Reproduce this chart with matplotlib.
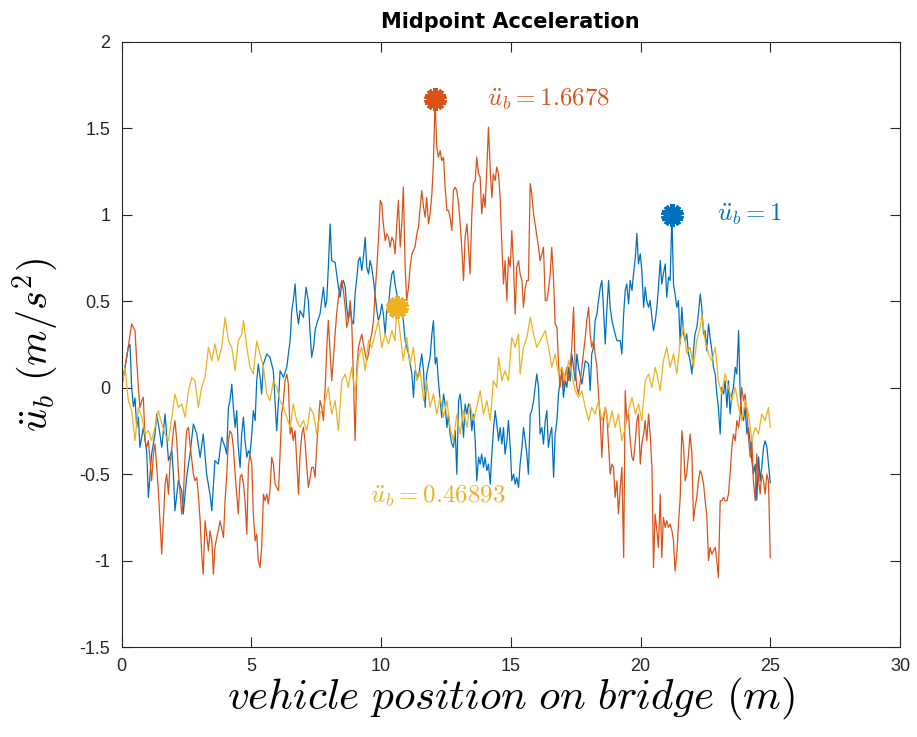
import matplotlib
matplotlib.use("Agg")
import matplotlib.pyplot as plt
from matplotlib.ticker import FuncFormatter

plt.rcParams["mathtext.fontset"] = "cm"
plt.rcParams["axes.unicode_minus"] = False
plt.rcParams["font.family"] = ["Liberation Sans", "DejaVu Sans"]

# ---- data (x in m, y in m/s^2) ----
blue_x = [0, 0.26, 0.33, 0.39, 0.46, 0.52, 0.585, 0.65, 0.71, 0.84, 0.97, 1.035, 1.16, 1.29, 1.36,
          1.48, 1.55, 1.68, 1.81, 1.94, 2.0, 2.06, 2.19, 2.32, 2.38, 2.51, 2.64, 2.77, 2.90, 3.03,
          3.15, 3.28, 3.41, 3.48, 3.60, 3.73, 3.86, 3.99,
          4.05, 4.12, 4.18, 4.25, 4.31, 4.38, 4.44, 4.50, 4.57, 4.63, 4.70, 4.76, 4.83, 4.89, 4.95,
          5.02, 5.08, 5.15, 5.21, 5.27, 5.34, 5.40, 5.47, 5.60, 5.72, 5.85, 5.98, 6.05, 6.11, 6.24,
          6.37, 6.43, 6.50, 6.56, 6.62, 6.69, 6.75, 6.82, 6.88, 7.01, 7.11, 7.20, 7.27, 7.33, 7.40,
          7.46, 7.52, 7.65, 7.78, 7.85, 7.91, 7.97, 8.04,
          8.10, 8.23, 8.36, 8.42, 8.49, 8.55, 8.62, 8.68, 8.74, 8.81, 8.87, 8.94, 9.0, 9.07, 9.13,
          9.19, 9.26, 9.32, 9.39, 9.45, 9.52, 9.58, 9.64, 9.71, 9.77, 9.84, 9.90, 9.97, 10.03, 10.09,
          10.16, 10.22, 10.29, 10.35, 10.42, 10.48, 10.54, 10.61, 10.67, 10.74, 10.86, 10.93, 11.06,
          11.19, 11.25, 11.31, 11.44, 11.57, 11.64, 11.70, 11.76, 11.89, 11.96, 12.02,
          12.09, 12.15, 12.21, 12.28, 12.34, 12.41, 12.47, 12.54, 12.60, 12.66, 12.73, 12.79, 12.86,
          12.92, 12.99, 13.05, 13.11, 13.18, 13.24, 13.31, 13.37, 13.43, 13.50, 13.56, 13.63, 13.69,
          13.76, 13.82, 13.88, 13.95, 14.01, 14.08, 14.14, 14.21, 14.27, 14.33, 14.40, 14.46, 14.53,
          14.59, 14.66, 14.72, 14.78, 14.85, 14.91, 14.98, 15.04, 15.11, 15.17, 15.23, 15.30, 15.36,
          15.43, 15.49, 15.56, 15.62, 15.68, 15.75, 15.81, 15.88, 15.94, 16.0,
          16.07, 16.13, 16.20, 16.26, 16.33, 16.39, 16.45, 16.52, 16.58, 16.65, 16.71, 16.78, 16.84,
          16.90, 16.97, 17.03, 17.10, 17.16, 17.23, 17.29, 17.35, 17.42, 17.48, 17.55, 17.61, 17.74,
          17.87, 18.0, 18.06, 18.12, 18.19, 18.25, 18.32, 18.38, 18.45, 18.51, 18.57, 18.64, 18.70,
          18.77, 18.83, 18.90, 19.02, 19.09, 19.22, 19.28, 19.35, 19.41, 19.47, 19.54, 19.60, 19.67,
          19.73, 19.80, 19.86, 19.92, 19.99, 20.05, 20.12, 20.18, 20.24, 20.31, 20.37, 20.44, 20.50,
          20.57, 20.63, 20.69, 20.76, 20.82, 20.88, 20.95, 21.01, 21.08, 21.14, 21.21, 21.27, 21.33,
          21.40, 21.46, 21.53, 21.59, 21.66, 21.72, 21.78, 21.85, 21.91, 21.98, 22.04, 22.10, 22.17,
          22.23, 22.30, 22.36, 22.43, 22.49, 22.55, 22.62, 22.68, 22.75, 22.81, 22.88, 22.94, 23.0,
          23.07, 23.13, 23.20, 23.26, 23.33, 23.39, 23.45, 23.52, 23.58, 23.65, 23.71, 23.78, 23.84,
          23.90, 23.97, 24.03, 24.10, 24.16, 24.23, 24.29, 24.35, 24.42, 24.48, 24.55, 24.61, 24.67,
          24.74, 24.80, 24.87, 24.93, 25.0]
blue_y = [0, 0.23, 0.25, 0.0, -0.11, -0.06, -0.23, -0.17, -0.345, -0.23, -0.365, -0.635, -0.384, -0.268, -0.152,
          -0.268, -0.345, -0.152, -0.422, -0.365, -0.5, -0.712, -0.538, -0.596, -0.731, -0.519, -0.384, -0.21, -0.268, -0.403,
          -0.268, -0.5, -0.616, -0.712, -0.422, -0.442, -0.287, -0.345,
          -0.384, -0.114, -0.075, 0.02, -0.114, -0.229, -0.133, -0.345, -0.461, -0.268, -0.171, -0.306, -0.403, -0.365, -0.384,
          -0.268, -0.133, -0.19, 0.04, 0.137, 0.06, -0.037, 0.137, 0.195, 0.176, 0.098, -0.249, -0.075, 0.098, 0.06,
          0.118, 0.195, 0.272, 0.446, 0.504, 0.6, 0.446, 0.369, 0.446, 0.407, 0.581, 0.504, 0.31, 0.176, 0.233,
          0.33, 0.369, 0.427, 0.581, 0.465, 0.504, 0.697, 0.947,
          0.735, 0.725, 0.581, 0.523, 0.6, 0.62, 0.581, 0.465, 0.388, 0.465, 0.388, 0.369, 0.542, 0.639, 0.735,
          0.755, 0.677, 0.755, 0.87, 0.697, 0.658, 0.735, 0.697, 0.62, 0.542, 0.446, 0.388, 0.426, 0.484, 0.426,
          0.31, 0.446, 0.465, 0.581, 0.658, 0.677, 0.6, 0.542, 0.465, 0.504, 0.388, 0.272, 0.195,
          0.079, -0.056, 0.098, 0.06, 0.195, 0.098, -0.114, 0.079, 0.175, 0.31, 0.388,
          0.137, 0.175, 0.04, -0.075, -0.172, -0.037, -0.094, -0.23, -0.153, -0.268, -0.326, -0.345, -0.249,
          -0.5, -0.075, -0.037, -0.133, -0.287, -0.094, -0.153, -0.094, -0.114, -0.249, -0.153, -0.307, -0.538,
          -0.403, -0.442, -0.384, -0.461, -0.403, -0.48, -0.442, -0.558, -0.384, -0.249, -0.133, -0.21, -0.307,
          -0.23, -0.326, -0.23, -0.384, -0.307, -0.19, -0.345, -0.538, -0.5, -0.558, -0.519, -0.577, -0.442,
          -0.345, -0.23, -0.307, -0.384, -0.5, -0.153, -0.133, -0.075, 0.002, 0.079,
          0.002, -0.268, -0.23, -0.326, -0.19, -0.133, -0.345, -0.268, -0.23, -0.518, -0.268, -0.19, -0.037,
          0.04, 0.079, -0.056, 0.04, 0.002, 0.118, 0.04, 0.195, 0.118, 0.04, 0.195, 0.118, 0.021,
          0.156, 0.137, -0.017, 0.195, 0.234, 0.388, 0.426, 0.504, 0.581, 0.62, 0.465, 0.253, 0.446,
          0.62, 0.465, 0.388, 0.311, 0.272, 0.272, 0.195, 0.426, 0.562, 0.6, 0.484, 0.62, 0.562,
          0.658, 0.755, 0.893, 0.716, 0.774, 0.678, 0.465, 0.581, 0.504, 0.465, 0.504, 0.407, 0.33,
          0.388, 0.465, 0.581, 0.735, 0.6, 0.658, 0.716, 0.523, 0.64, 0.62, 1.0, 0.6, 0.542,
          0.465, 0.504, 0.253, 0.465, 0.311, 0.272, 0.311, 0.195, 0.156, 0.079, 0.214, 0.311, 0.349,
          0.426, 0.542, 0.465, 0.311, 0.33, 0.214, 0.369, 0.291, 0.214, 0.118, 0.079, -0.037, -0.114,
          -0.268, 0.002, -0.037, 0.04, -0.114, 0.04, -0.152, -0.037, 0.002, 0.118, 0.079, 0.33, -0.037,
          -0.152, -0.19, -0.114, -0.268, -0.23, -0.326, -0.422, -0.5, -0.442, -0.65, -0.40, -0.54, -0.46,
          -0.345, -0.307, -0.345, -0.442, -0.55]

red_x = [0, 0.2, 0.39, 0.52, 0.585, 0.65, 0.71, 0.78, 0.84, 0.91, 0.97, 1.035, 1.1, 1.16, 1.23, 1.29,
         1.36, 1.42, 1.48, 1.55, 1.61, 1.68, 1.74, 1.81, 1.87, 1.94, 2.0, 2.06, 2.13, 2.19, 2.26, 2.32,
         2.38, 2.45, 2.51, 2.58, 2.64, 2.71, 2.77, 2.83, 2.90, 2.96, 3.03, 3.09, 3.15, 3.22, 3.28, 3.35,
         3.41, 3.48, 3.54, 3.60, 3.67, 3.73, 3.80,
         3.93, 3.99, 4.05, 4.12, 4.18, 4.25, 4.31, 4.38, 4.44, 4.50, 4.57, 4.63, 4.70, 4.76, 4.83, 4.89,
         4.95, 5.02, 5.08, 5.15, 5.21, 5.27, 5.34, 5.40, 5.47, 5.53, 5.60, 5.66, 5.72, 5.79, 5.85, 5.92,
         5.98, 6.05, 6.11, 6.17, 6.24, 6.30, 6.37, 6.43, 6.50, 6.56, 6.62, 6.69, 6.75, 6.82, 6.88, 6.95,
         7.01, 7.07, 7.14, 7.20, 7.27, 7.33, 7.40, 7.46, 7.52, 7.59, 7.65, 7.72, 7.78, 7.85, 7.91,
         7.97, 8.04, 8.10, 8.17, 8.23, 8.29, 8.36, 8.42, 8.49, 8.55, 8.62, 8.68, 8.74, 8.81, 8.87, 8.94,
         9.0, 9.07, 9.13, 9.19, 9.26, 9.32, 9.39, 9.45, 9.52, 9.58, 9.64, 9.71, 9.77, 9.84, 9.90, 9.97,
         10.03, 10.09, 10.16, 10.22, 10.29, 10.35, 10.42, 10.48, 10.54, 10.61, 10.67, 10.74, 10.80,
         10.86, 10.93, 10.99, 11.06, 11.12, 11.19, 11.25, 11.31, 11.38, 11.44, 11.51, 11.57, 11.64,
         11.70, 11.76, 11.83, 11.89, 11.96, 12.02, 12.08,
         12.15, 12.21, 12.28, 12.34, 12.41, 12.47, 12.54, 12.60, 12.66, 12.73, 12.79, 12.86, 12.92,
         12.99, 13.05, 13.11, 13.18, 13.24, 13.31, 13.37, 13.43, 13.50, 13.56, 13.63, 13.69, 13.76,
         13.82, 13.88, 13.95, 14.01, 14.08, 14.14, 14.21, 14.27, 14.33, 14.40, 14.46, 14.53, 14.59,
         14.66, 14.72, 14.78, 14.85, 14.91, 14.98, 15.04, 15.11, 15.17, 15.23, 15.30, 15.36, 15.43,
         15.49, 15.56, 15.62, 15.68, 15.75, 15.81, 15.88,
         16.07, 16.13, 16.20, 16.26, 16.33, 16.39, 16.45, 16.52, 16.58, 16.65, 16.71, 16.78, 16.84,
         16.90, 16.97, 17.03, 17.10, 17.16, 17.23, 17.29, 17.35, 17.42, 17.48, 17.55, 17.61, 17.68,
         17.74, 17.80, 17.87, 17.93, 18.0, 18.06, 18.12, 18.19, 18.25, 18.32, 18.38, 18.45, 18.51,
         18.57, 18.64, 18.70, 18.77, 18.83, 18.90, 18.96, 19.02, 19.09, 19.15, 19.22, 19.28, 19.35,
         19.41, 19.47, 19.54, 19.60, 19.67, 19.73, 19.80, 19.86, 19.92, 19.99, 20.05, 20.12, 20.18,
         20.24, 20.31, 20.37, 20.44, 20.50,
         20.56, 20.63, 20.69, 20.76, 20.82, 20.88, 20.95, 21.01, 21.08, 21.14, 21.21, 21.27, 21.33,
         21.40, 21.46, 21.53, 21.59, 21.66, 21.72, 21.78, 21.85, 21.91, 21.98, 22.04, 22.10, 22.17,
         22.23, 22.30, 22.36, 22.43, 22.49, 22.55, 22.62, 22.68, 22.75, 22.81, 22.88, 22.94, 23.0,
         23.07, 23.13, 23.20, 23.26, 23.33, 23.39, 23.45, 23.52, 23.58, 23.65, 23.71, 23.78, 23.84,
         23.90, 23.97, 24.03, 24.10, 24.16, 24.23, 24.29, 24.35, 24.42, 24.48, 24.55, 24.61, 24.67,
         24.74, 24.80, 24.87, 24.93, 25.0]
red_y = [0, 0.176, 0.369, 0.33, 0.156, 0.002, -0.114, -0.075, -0.056, -0.306, -0.345, -0.306, -0.422, -0.538, -0.384, -0.326,
         -0.461, -0.596, -0.77, -0.963, -0.77, -0.557, -0.5, -0.616, -0.442, -0.345, -0.249, -0.191, -0.306, -0.48, -0.616, -0.731,
         -0.654, -0.384, -0.249, -0.229, -0.326, -0.422, -0.5, -0.538, -0.519, -0.616, -0.77, -0.963, -1.079, -0.77, -0.847, -0.944,
         -0.828, -0.886, -1.079, -0.924, -0.866, -0.828, -0.77,
         -0.866, -0.654, -0.519, -0.306, -0.249, -0.268, -0.345, -0.5, -0.616, -0.731, -0.519, -0.5, -0.557, -0.654, -0.847, -0.461,
         -0.384, -0.442, -0.731, -0.886, -0.847, -1.0, -1.04, -0.924, -0.616, -0.654, -0.616, -0.673, -0.596, -0.403, -0.442, -0.557,
         -0.577, -0.596, -0.384, -0.152, -0.075, 0.04, 0.079, 0.021, -0.268, -0.229, -0.306, -0.249, -0.422, -0.616, -0.384, -0.268,
         -0.229, -0.306, -0.461, -0.577, -0.519, -0.461, -0.461, -0.519, -0.345, -0.19, -0.075, -0.114, -0.19, 0.002, 0.233,
         0.388, 0.195, 0.04, 0.175, 0.31, 0.426, 0.523, 0.581, 0.62, 0.562, 0.465, 0.349, 0.388, 0.504, 0.388, 0.04,
         -0.306, 0.118, 0.233, 0.272, 0.31, 0.253, 0.195, 0.156, 0.195, 0.272, 0.31, 0.388, 0.542, 0.697, 0.851, 1.083,
         1.063, 0.947, 0.851, 0.89, 0.87, 0.813, 0.87, 0.851, 0.774, 0.947, 1.083, 0.813, 0.947,
         1.16, 0.697, 0.504, 0.581, 0.697, 0.774, 0.793, 0.813, 0.89, 0.928, 1.044, 1.14, 1.044,
         0.986, 1.1, 0.947, 1.005, 1.12, 1.3, 1.6678,
         1.391, 1.333, 1.372, 1.314, 1.333, 1.16, 1.025, 1.025, 0.986, 0.909, 1.14, 1.16, 1.14,
         1.063, 0.947, 0.813, 0.62, 0.87, 0.947, 0.813, 0.658, 1.005, 1.18, 1.198, 1.333, 1.237,
         1.218, 1.005, 1.12, 1.044, 1.276, 1.507, 1.256, 1.1, 1.237, 1.198, 1.276, 1.237, 1.1,
         0.813, 0.6, 0.735, 0.504, 0.755, 0.697, 0.909, 0.697, 0.426, 0.697, 0.735, 0.658, 0.62,
         0.465, 0.581, 0.62, 0.62, 1.18, 1.12, 1.005,
         0.812, 0.735, 0.774, 0.812, 0.504, 0.504, 0.562, 0.658, 0.812, 0.62, 0.368, 0.349, 0.137,
         0.002, 0.118, 0.002, 0.079, 0.118, 0.04, 0.118, 0.234, 0.465, 0.118, 0.002, -0.037, 0.04,
         0.118, 0.195, 0.291, 0.388, 0.465, 0.311, 0.234, 0.272, 0.195, 0.118, -0.037, -0.19, -0.403,
         -0.19, -0.114, -0.152, -0.345, -0.5, -0.442, -0.461, -0.635, -0.539, -0.731, -0.577, -0.461, -0.982,
         -0.017, -0.19, -0.152, -0.307, -0.403, -0.422, -0.307, -0.19, -0.152, -0.442, -0.326, -0.268, -0.19,
         -0.307, -0.152, -0.268, -0.461, -1.04,
         -0.731, -0.827, -0.924, -0.615, -0.982, -0.75, -0.808, -0.77, -0.808, -0.789, -0.827, -0.885, -1.06,
         -0.963, -0.789, -0.635, -0.249, -0.345, -0.539, -0.5, -0.384, -0.268, -0.384, -0.77, -0.693, -0.635,
         -0.539, -0.48, -0.5, -0.558, -0.654, -0.731, -1.0, -0.924, -0.963, -0.943, -0.924, -1.0, -1.098,
         -0.654, -0.654, -0.635, -0.654, -0.654, -0.615, -0.5, -0.345, -0.268, -0.307, -0.19, -0.23, -0.152,
         0.002, -0.075, -0.037, -0.152, -0.287, -0.403, -0.307, -0.539, -0.654, -0.384, -0.539, -0.615, -0.5,
         -0.539, -0.615, -0.5, -0.539, -0.982]

yellow_x = [0, 0.135, 0.264, 0.393, 0.52, 0.65, 0.78, 0.906, 1.035, 1.16, 1.29, 1.42, 1.55, 1.68, 1.81,
            1.94, 2.06, 2.19, 2.32, 2.45, 2.58, 2.71, 2.83, 2.96, 3.09, 3.22, 3.35, 3.48, 3.6, 3.73,
            3.86, 3.99,
            4.12, 4.25, 4.38, 4.50, 4.63, 4.70, 4.83, 4.95, 5.08, 5.21, 5.34, 5.47, 5.60, 5.72, 5.85,
            5.98, 6.11, 6.24, 6.37, 6.50, 6.62, 6.75, 6.88, 7.01, 7.14, 7.27, 7.40, 7.52, 7.65, 7.78,
            7.85, 7.97, 8.10, 8.23, 8.36, 8.49, 8.62, 8.74, 8.87, 9.0, 9.13, 9.26, 9.39, 9.52, 9.64,
            9.77, 9.90, 10.03, 10.16, 10.29, 10.42, 10.54, 10.61, 10.74, 10.86, 10.99, 11.12, 11.25,
            11.38, 11.51, 11.64, 11.76, 11.89, 12.02,
            12.15, 12.28, 12.41, 12.54, 12.66, 12.79, 12.92, 13.05, 13.18, 13.31, 13.43, 13.56, 13.69,
            13.82, 13.95, 14.08, 14.21, 14.33, 14.46, 14.53, 14.66, 14.78, 14.91, 15.04, 15.17, 15.30,
            15.36, 15.49, 15.62, 15.75, 15.88, 16.00,
            16.20, 16.33, 16.45, 16.58, 16.71, 16.84, 16.97, 17.10, 17.23, 17.35, 17.48, 17.61, 17.74,
            17.87, 18.0, 18.12, 18.25, 18.38, 18.51, 18.64, 18.77, 18.90, 19.02, 19.15, 19.28, 19.41,
            19.54, 19.67, 19.80, 19.92, 20.05, 20.18, 20.31, 20.44, 20.57,
            20.63, 20.76, 20.88, 21.01, 21.14, 21.27, 21.40, 21.53, 21.66, 21.78, 21.91, 22.04, 22.17,
            22.30, 22.36, 22.49, 22.62, 22.75, 22.88, 23.0, 23.13, 23.26, 23.39, 23.52, 23.65, 23.78,
            23.90, 24.03, 24.16, 24.29, 24.42, 24.55, 24.67, 24.80, 24.93, 25.0]
yellow_y = [0, 0.118, -0.075, -0.133, -0.306, -0.114, -0.171, -0.268, -0.249, -0.306, -0.229, -0.133, -0.21, -0.268, -0.306,
            -0.171, -0.037, -0.114, -0.094, -0.171, -0.017, 0.059, 0.04, -0.114, 0.002, 0.059, 0.233, 0.156, 0.253, 0.156,
            0.233, 0.407,
            0.27, 0.233, 0.098, 0.27, 0.31, 0.388, 0.233, 0.118, 0.079, 0.27, 0.195, 0.118, -0.037, -0.075, 0.04,
            0.002, -0.075, -0.114, -0.171, -0.229, -0.094, -0.19, -0.229, -0.19, -0.249, -0.114, -0.152, -0.268, -0.152, -0.114,
            -0.075, 0.002, -0.153, -0.075, -0.249, 0.04, 0.079, 0.002, 0.118, -0.037, 0.175, 0.233, 0.098, 0.272, 0.233,
            0.31, 0.388, 0.233, 0.31, 0.253, 0.33, 0.272, 0.46893, 0.31, 0.156, 0.29, 0.137, 0.233,
            0.04, 0.098, -0.075, 0.04, -0.114, -0.037,
            -0.153, -0.056, -0.172, -0.075, -0.23, -0.307, -0.153, -0.268, -0.133, -0.23, -0.094, -0.19, -0.114,
            -0.017, -0.153, -0.075, -0.19, 0.04, 0.002, 0.175, 0.04, 0.098, 0.04, 0.29, 0.233, 0.31,
            0.079, 0.233, 0.29, 0.407, 0.31, 0.233,
            0.291, 0.33, 0.234, 0.118, 0.195, 0.079, 0.118, 0.04, 0.156, 0.079, -0.017, -0.056, -0.017,
            -0.114, -0.19, -0.114, -0.152, -0.075, -0.19, -0.114, -0.23, -0.133, -0.23, -0.152, -0.307, -0.23,
            -0.133, -0.056, -0.152, -0.094, -0.19, 0.04, 0.079, 0.002, 0.118,
            0.079, -0.017, 0.156, 0.234, 0.118, 0.195, 0.079, 0.272, 0.35, 0.195, 0.234, 0.118, 0.272,
            0.35, 0.426, 0.272, 0.195, 0.156, 0.234, 0.04, -0.037, 0.079, 0.002, -0.075, 0.002, -0.114,
            -0.19, -0.075, -0.152, -0.307, -0.23, -0.268, -0.152, -0.19, -0.114, -0.23]

# peak markers and their labels
peak_x = [21.2, 12.08, 10.61]
peak_y = [1.0, 1.6678, 0.46893]
peak_text = ["1", "1.6678", "0.46893"]
text_x = [22.95, 14.1, 9.58]
text_y = [1.0, 1.6678, -0.63]

colors = ["#0072BD", "#D95319", "#EDB120"]

fig = plt.figure(figsize=(9.17, 7.37), dpi=100)
ax = fig.add_axes([0.1325, 0.1221, 0.849, 0.821])

for xs, ys, c in zip([blue_x, red_x, yellow_x], [blue_y, red_y, yellow_y], colors):
    ax.plot(xs, ys, color=c, lw=0.9)

for px, py, t, tx, ty, c in zip(peak_x, peak_y, peak_text, text_x, text_y, colors):
    ax.plot(px, py, marker=(10, 2, 0), ms=16, mew=3.5, color=c, ls="none")
    ax.text(tx, ty, r"$\ddot{u}_b=" + t + "$", color=c, fontsize=18,
            ha="left", va="center")

ax.set_xlim(0, 30)
ax.set_ylim(-1.5, 2)
ax.set_xticks(range(0, 31, 5))
ax.set_yticks([-1.5, -1, -0.5, 0, 0.5, 1, 1.5, 2])
ax.yaxis.set_major_formatter(FuncFormatter(lambda v, p: "%g" % v))
ax.tick_params(direction="in", length=7, width=0.8, top=True, right=True,
               labelsize=13, colors="#262626", pad=8)
for sp in ax.spines.values():
    sp.set_linewidth(0.8)
    sp.set_color("#262626")

ax.set_title("Midpoint Acceleration", fontsize=15, fontweight="bold", pad=10,
             family="DejaVu Sans")
ax.set_xlabel(r"$vehicle\ position\ on\ bridge\ (m)$", fontsize=31, labelpad=0)
ax.set_ylabel(r"$\ddot{u}_b\ (m/s^2)$", fontsize=29, labelpad=14)

fig.savefig("out.png", dpi=100)
